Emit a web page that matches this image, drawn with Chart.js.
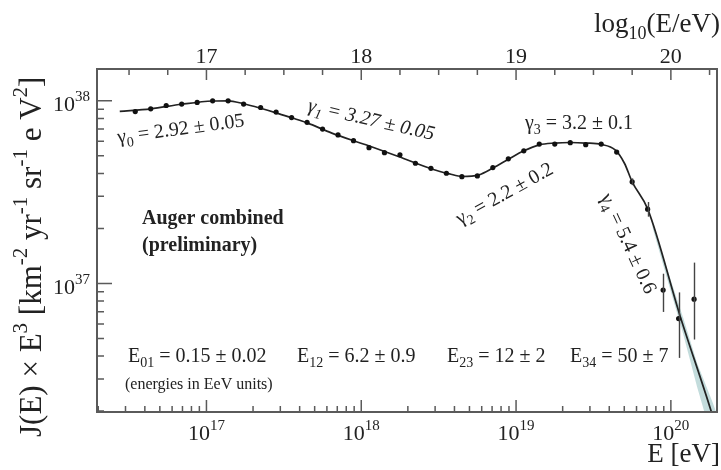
<!DOCTYPE html>
<html>
<head>
<meta charset="utf-8">
<script src="https://cdn.jsdelivr.net/npm/chart.js@4.4.1/dist/chart.umd.min.js"></script>
<style>
  html, body { margin: 0; padding: 0; background: #fff; }
  #wrap { width: 721px; height: 470px; }
</style>
</head>
<body>
<div id="wrap"><canvas id="spec" width="721" height="470"></canvas></div>
<script>
// measured spectrum, bin centres in log10(E/eV)
var lgE = [16.54, 16.64, 16.74, 16.84, 16.94, 17.04, 17.14, 17.24, 17.35, 17.45,
           17.55, 17.65, 17.75, 17.85, 17.95, 18.05, 18.15, 18.25, 18.35, 18.45,
           18.55, 18.65, 18.75, 18.85, 18.95, 19.05, 19.15, 19.25, 19.35, 19.45,
           19.55, 19.65, 19.75, 19.85, 19.95, 20.05, 20.15];
// J(E) x E^3 in km^-2 yr^-1 sr^-1 eV^2
var flux = [8.73e37, 9.04e37, 9.42e37, 9.59e37, 9.79e37, 1.00e38, 1.00e38, 9.59e37, 9.19e37, 8.67e37,
            8.09e37, 7.62e37, 7.00e37, 6.50e37, 6.05e37, 5.54e37, 5.20e37, 5.06e37, 4.55e37, 4.27e37,
            4.01e37, 3.84e37, 3.88e37, 4.31e37, 4.81e37, 5.32e37, 5.79e37, 5.79e37, 5.90e37, 5.75e37,
            5.79e37, 5.24e37, 3.60e37, 2.55e37, 9.19e36, 6.42e36, 8.20e36];

// error bars on the highest bins
var barLgE = [19.75, 19.85, 19.95, 20.05, 20.15];
var barLo  = [3.45e37, 2.32e37, 6.98e36, 3.91e36, 4.93e36];
var barHi  = [3.76e37, 2.79e37, 1.13e37, 8.93e36, 1.30e37];

// fitted broken power law
var fitLgE  = [16.44, 16.64, 16.84, 17.04, 17.14, 17.24, 17.35, 17.45, 17.55, 17.65,
               17.81, 18.03, 18.24, 18.46, 18.57, 18.65, 18.76, 18.85, 18.95, 19.05,
               19.15, 19.25, 19.35, 19.45, 19.55, 19.64, 19.70, 19.75, 19.85, 20.06,
               20.26, 20.33];
var fitFlux = [8.74e37, 9.04e37, 9.57e37, 9.97e37, 1.00e38, 9.63e37, 9.10e37, 8.59e37, 8.07e37, 7.57e37,
               6.65e37, 5.74e37, 4.95e37, 4.22e37, 3.98e37, 3.85e37, 3.93e37, 4.28e37, 4.78e37, 5.32e37,
               5.74e37, 5.87e37, 5.91e37, 5.87e37, 5.77e37, 5.38e37, 4.55e37, 3.60e37, 2.56e37, 6.62e36,
               2.00e36, 1.26e36];

// uncertainty band of the last segment
var bandLgE = [19.88, 19.98, 20.08, 20.17, 20.27, 20.33];
var bandLo  = [2.04e37, 1.03e37, 5.27e36, 2.70e36, 1.38e36, 9.46e35];
var bandHi  = [2.11e37, 1.17e37, 6.46e36, 3.66e36, 2.23e36, 1.61e36];

var bottomDecades = [17, 18, 19, 20];
var leftDecades = [37, 38];
var topLabels = [17, 18, 19, 20];

var gammaLabels = [
  { parts: [['γ', 0], ['0', -1], [' = 2.92 ± 0.05', 0]], x: 118, y: 143, rot: -7.5, italic: false },
  { parts: [['γ', 0], ['1', -1], [' = 3.27 ± 0.05', 0]], x: 307, y: 111, rot: 13, italic: true },
  { parts: [['γ', 0], ['2', -1], [' = 2.2 ± 0.2', 0]], x: 460, y: 225, rot: -29, italic: false },
  { parts: [['γ', 0], ['3', -1], [' = 3.2 ± 0.1', 0]], x: 525, y: 129, rot: 0, italic: false },
  { parts: [['γ', 0], ['4', -1], [' = 5.4 ± 0.6', 0]], x: 600, y: 197, rot: 65, italic: false }
];
var breakLabels = [
  { parts: [['E', 0], ['01', -1], [' = 0.15 ± 0.02', 0]], x: 128 },
  { parts: [['E', 0], ['12', -1], [' = 6.2 ± 0.9', 0]], x: 297 },
  { parts: [['E', 0], ['23', -1], [' = 12 ± 2', 0]], x: 447 },
  { parts: [['E', 0], ['34', -1], [' = 50 ± 7', 0]], x: 570 }
];

var SERIF = '"Liberation Serif", "DejaVu Serif", serif';
var INK = '#222';
var FRAME = '#5a5a5a';

function pow10(v) { return Math.pow(10, v); }

// text with sub/superscripts; parts = [[text, k]] with k 1 = sup, -1 = sub
function drawRich(ctx, parts, x, y, size, opt) {
  opt = opt || {};
  var style = (opt.italic ? 'italic ' : '') + (opt.bold ? 'bold ' : '');
  var small = Math.round(size * 0.68);
  var widths = [], total = 0;
  parts.forEach(function (p) {
    ctx.font = style + (p[1] ? small : size) + 'px ' + SERIF;
    var w = ctx.measureText(p[0]).width;
    widths.push(w);
    total += w;
  });
  ctx.save();
  ctx.translate(x, y);
  ctx.rotate((opt.rot || 0) * Math.PI / 180);
  ctx.fillStyle = opt.color || INK;
  ctx.textBaseline = 'alphabetic';
  ctx.textAlign = 'left';
  var cx = opt.align === 'right' ? -total : opt.align === 'center' ? -total / 2 : 0;
  parts.forEach(function (p, i) {
    ctx.font = style + (p[1] ? small : size) + 'px ' + SERIF;
    var dy = p[1] === 1 ? -size * 0.45 : p[1] === -1 ? size * 0.25 : 0;
    ctx.fillText(p[0], cx, dy);
    cx += widths[i];
  });
  ctx.restore();
}

var decor = {
  id: 'decor',
  afterDatasetsDraw: function (chart) {
    var ctx = chart.ctx, a = chart.chartArea;
    var xs = chart.scales.x, ys = chart.scales.y;

    // error bars
    ctx.save();
    ctx.strokeStyle = '#444';
    ctx.lineWidth = 1.4;
    for (var i = 0; i < barLgE.length; i++) {
      var px = Math.round(xs.getPixelForValue(pow10(barLgE[i]))) + 0.5;
      ctx.beginPath();
      ctx.moveTo(px, ys.getPixelForValue(barLo[i]));
      ctx.lineTo(px, ys.getPixelForValue(barHi[i]));
      ctx.stroke();
    }
    ctx.restore();

    // frame
    ctx.save();
    ctx.strokeStyle = FRAME;
    ctx.lineWidth = 2;
    ctx.strokeRect(a.left, a.top, a.right - a.left, a.bottom - a.top);

    // inward ticks
    ctx.lineWidth = 1.5;
    ctx.beginPath();
    for (var e = 16; e <= 20; e++) {
      for (var m = 1; m <= 9; m++) {
        var v = m * pow10(e);
        if (v <= xs.min || v >= xs.max) continue;
        var tx = xs.getPixelForValue(v);
        var len = m === 1 ? 12 : 6;
        ctx.moveTo(tx, a.bottom);
        ctx.lineTo(tx, a.bottom - len);
      }
    }
    for (var t = 16.25; t <= 20.3; t += 0.25) {
      var v2 = pow10(t);
      if (v2 <= xs.min || v2 >= xs.max) continue;
      var tx2 = xs.getPixelForValue(v2);
      var len2 = Math.abs(t - Math.round(t)) < 1e-6 ? 11 : 6;
      ctx.moveTo(tx2, a.top);
      ctx.lineTo(tx2, a.top + len2);
    }
    for (var ey = 36; ey <= 38; ey++) {
      for (var my = 1; my <= 9; my++) {
        var vy = my * pow10(ey);
        if (vy <= ys.min || vy >= ys.max) continue;
        var ty = ys.getPixelForValue(vy);
        var leny = my === 1 ? 15 : 7;
        ctx.moveTo(a.left, ty);
        ctx.lineTo(a.left + leny, ty);
      }
    }
    ctx.stroke();
    ctx.restore();
  },
  afterDraw: function (chart) {
    var ctx = chart.ctx, a = chart.chartArea;
    var xs = chart.scales.x, ys = chart.scales.y;

    bottomDecades.forEach(function (d) {
      drawRich(ctx, [['10', 0], [String(d), 1]], xs.getPixelForValue(pow10(d)), a.bottom + 28, 22, { align: 'center' });
    });
    leftDecades.forEach(function (d) {
      drawRich(ctx, [['10', 0], [String(d), 1]], 90, ys.getPixelForValue(pow10(d)) + 10.5, 22, { align: 'right' });
    });
    topLabels.forEach(function (d) {
      drawRich(ctx, [[String(d), 0]], xs.getPixelForValue(pow10(d)), a.top - 6, 22, { align: 'center' });
    });

    // axis titles
    drawRich(ctx, [['log', 0], ['10', -1], ['(E/eV)', 0]], 720, 32, 27, { align: 'right' });
    drawRich(ctx, [['E [eV]', 0]], 720, 462, 27, { align: 'right' });
    drawRich(ctx, [['J(E) × E', 0], ['3', 1], [' [km', 0], ['-2', 1], [' yr', 0], ['-1', 1],
                   [' sr', 0], ['-1', 1], [' e V', 0], ['2', 1], [']', 0]],
             41, 437, 31, { rot: -90 });

    gammaLabels.forEach(function (g) {
      drawRich(ctx, g.parts, g.x, g.y, 20, { rot: g.rot, italic: g.italic });
    });
    breakLabels.forEach(function (b) {
      drawRich(ctx, b.parts, b.x, 362, 20);
    });
    drawRich(ctx, [['(energies in EeV units)', 0]], 125, 389, 16);
    drawRich(ctx, [['Auger combined', 0]], 142, 224, 20, { bold: true });
    drawRich(ctx, [['(preliminary)', 0]], 142, 251, 20, { bold: true });
  }
};

function pts(xs, ys) {
  return xs.map(function (v, i) { return { x: pow10(v), y: ys[i] }; });
}

new Chart(document.getElementById('spec'), {
  type: 'scatter',
  data: {
    datasets: [
      {
        data: pts(lgE, flux),
        pointRadius: 2.6,
        pointBackgroundColor: '#111',
        pointBorderWidth: 0,
        showLine: false
      },
      {
        data: pts(fitLgE, fitFlux),
        showLine: true,
        borderColor: INK,
        borderWidth: 1.7,
        pointRadius: 0,
        cubicInterpolationMode: 'monotone'
      },
      {
        data: pts(bandLgE, bandLo),
        showLine: true,
        borderWidth: 0,
        pointRadius: 0,
        fill: '+1',
        backgroundColor: 'rgba(170, 205, 205, 0.7)'
      },
      {
        data: pts(bandLgE, bandHi),
        showLine: true,
        borderWidth: 0,
        pointRadius: 0,
        fill: false
      }
    ]
  },
  options: {
    responsive: false,
    animation: false,
    layout: { padding: { left: 97, right: 1, top: 69, bottom: 58 } },
    plugins: { legend: { display: false }, tooltip: { enabled: false } },
    scales: {
      x: { type: 'logarithmic', min: pow10(16.293), max: pow10(20.298), display: false },
      y: { type: 'logarithmic', min: pow10(36.296), max: pow10(38.174), display: false }
    }
  },
  plugins: [decor]
});
</script>
</body>
</html>
